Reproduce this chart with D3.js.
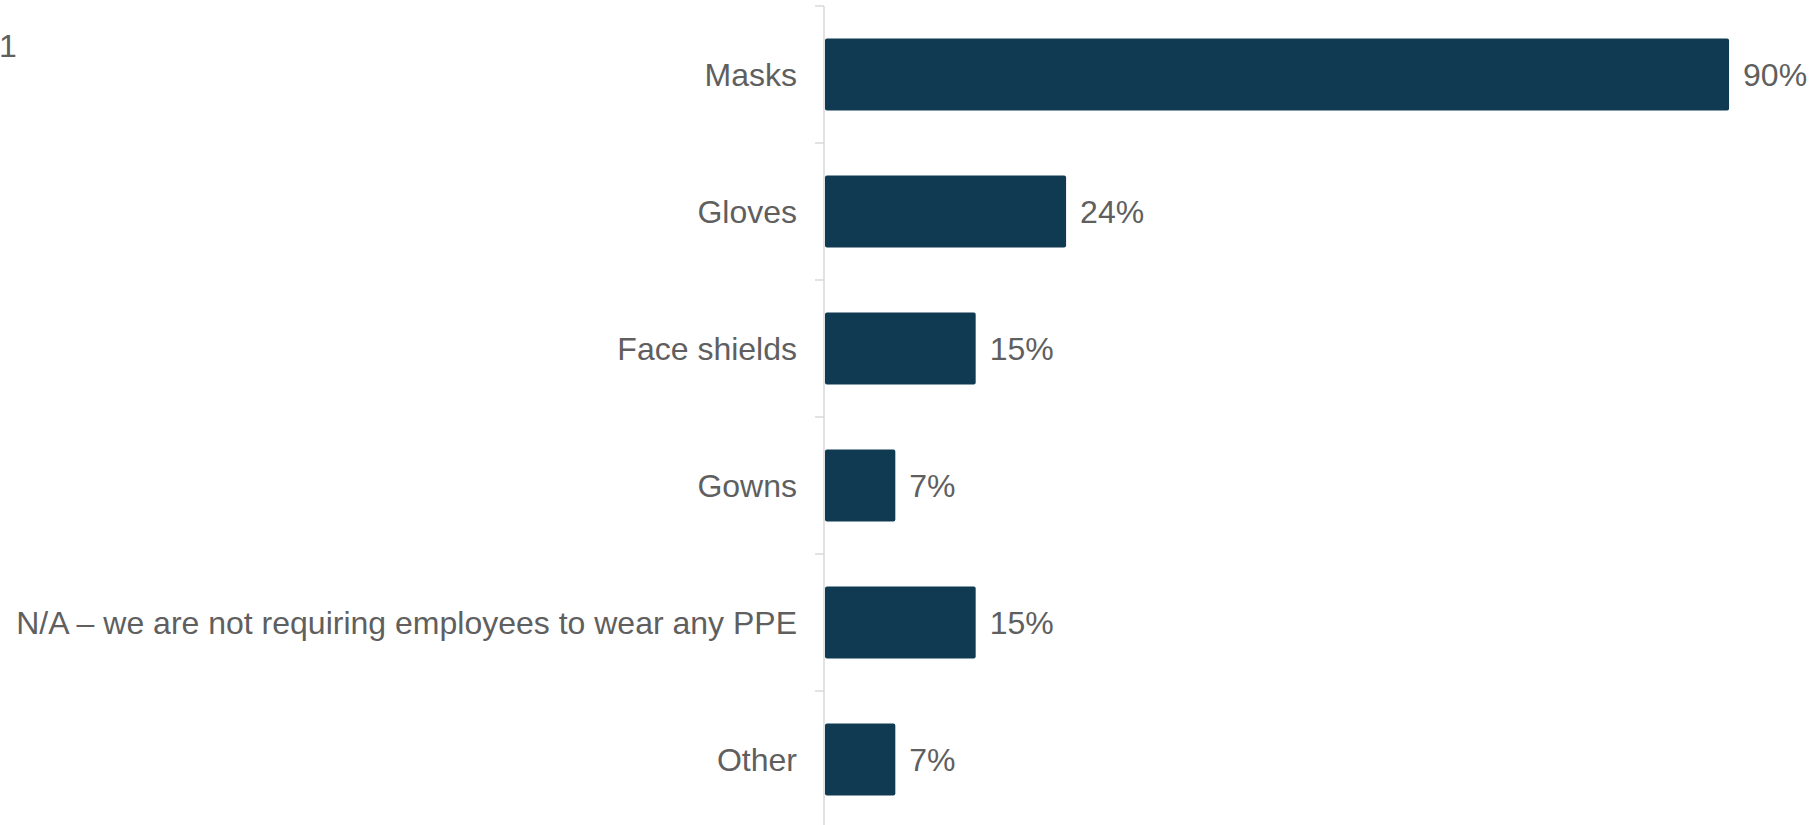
<!DOCTYPE html>
<html>
<head>
<meta charset="utf-8">
<script src="https://cdn.jsdelivr.net/npm/d3@7"></script>
<style>
  html, body { margin: 0; padding: 0; background: #ffffff; }
  svg { display: block; }
  text { font-family: "Liberation Sans", Arial, sans-serif; fill: #5f5f5f; }
</style>
</head>
<body>
<svg id="chart" width="1813" height="825"></svg>
<script>
// PPE items employees are required to wear, share of respondents (%)
const categories = [
  "Masks",
  "Gloves",
  "Face shields",
  "Gowns",
  "N/A \u2013 we are not requiring employees to wear any PPE",
  "Other"
];
const values = [90, 24, 15, 7, 15, 7];
const valueLabels = ["90%", "24%", "15%", "7%", "15%", "7%"];
const stubLabel = "1";

const W = 1813, H = 825;
const axisX = 824;
const fontSize = "32px";
const svg = d3.select("#chart");

const x = d3.scaleLinear()
  .domain([0, 100])
  .range([axisX + 1, axisX + 1 + 1004.5]);

const y = d3.scaleBand()
  .domain(categories)
  .range([6, 828])
  .paddingInner(0.475)
  .paddingOuter(0.2375);

// small label in the top-left corner
svg.append("text")
  .attr("x", -1)
  .attr("y", 46)
  .attr("dy", "0.35em")
  .attr("text-anchor", "start")
  .style("font-size", fontSize)
  .text(stubLabel);

// category axis: vertical line with ticks between bands
const axisG = svg.append("g");
axisG.append("line")
  .attr("x1", axisX).attr("x2", axisX)
  .attr("y1", y.range()[0]).attr("y2", H)
  .attr("stroke", "#d9d9d9").attr("stroke-width", 1.5);

const step = y.step();
const boundaries = d3.range(categories.length + 1).map(i => y.range()[0] + i * step);
axisG.selectAll("line.tick")
  .data(boundaries)
  .join("line")
  .attr("class", "tick")
  .attr("x1", axisX - 9).attr("x2", axisX)
  .attr("y1", d => d).attr("y2", d => d)
  .attr("stroke", "#d9d9d9").attr("stroke-width", 1.5);

// category labels
svg.selectAll("text.cat")
  .data(categories)
  .join("text")
  .attr("class", "cat")
  .attr("x", 797)
  .attr("y", d => y(d) + y.bandwidth() / 2)
  .attr("dy", "0.35em")
  .attr("text-anchor", "end")
  .style("font-size", fontSize)
  .text(d => d);

// bars
svg.selectAll("rect.bar")
  .data(values)
  .join("rect")
  .attr("class", "bar")
  .attr("x", x(0))
  .attr("y", (d, i) => y(categories[i]))
  .attr("width", d => x(d) - x(0))
  .attr("height", y.bandwidth())
  .attr("rx", 2)
  .attr("fill", "#0f3a52");

// value labels
svg.selectAll("text.val")
  .data(values)
  .join("text")
  .attr("class", "val")
  .attr("x", d => x(d) + 14)
  .attr("y", (d, i) => y(categories[i]) + y.bandwidth() / 2)
  .attr("dy", "0.35em")
  .style("font-size", fontSize)
  .text((d, i) => valueLabels[i]);
</script>
</body>
</html>
